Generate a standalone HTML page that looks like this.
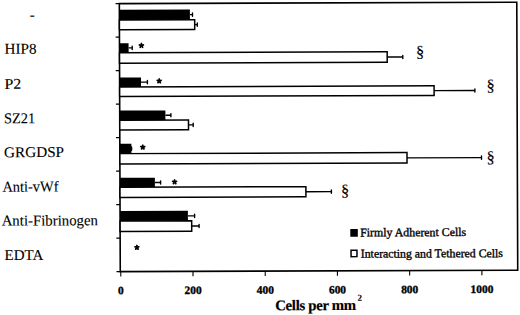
<!DOCTYPE html>
<html><head><meta charset="utf-8"><style>
html,body{margin:0;padding:0;background:#fff;width:520px;height:315px;overflow:hidden}
svg{display:block}
text{font-family:"Liberation Serif",serif;fill:#000;stroke:#000;stroke-width:0.1px}
</style></head><body>
<svg width="520" height="315" viewBox="0 0 520 315">
<g transform="rotate(-0.2 318.6 137.0)">
<rect x="119.80" y="2.95" width="397.45" height="267.95" fill="none" stroke="#000" stroke-width="1.6"/>
<line x1="116" x2="119.80" y1="2.95" y2="2.95" stroke="#000" stroke-width="1.3"/>
<line x1="116" x2="119.80" y1="36.44" y2="36.44" stroke="#000" stroke-width="1.3"/>
<line x1="116" x2="119.80" y1="69.94" y2="69.94" stroke="#000" stroke-width="1.3"/>
<line x1="116" x2="119.80" y1="103.43" y2="103.43" stroke="#000" stroke-width="1.3"/>
<line x1="116" x2="119.80" y1="136.92" y2="136.92" stroke="#000" stroke-width="1.3"/>
<line x1="116" x2="119.80" y1="170.42" y2="170.42" stroke="#000" stroke-width="1.3"/>
<line x1="116" x2="119.80" y1="203.91" y2="203.91" stroke="#000" stroke-width="1.3"/>
<line x1="116" x2="119.80" y1="237.41" y2="237.41" stroke="#000" stroke-width="1.3"/>
<line x1="116" x2="119.80" y1="270.90" y2="270.90" stroke="#000" stroke-width="1.3"/>
<line x1="120.30" x2="120.30" y1="270.90" y2="275.70" stroke="#000" stroke-width="1.1"/>
<line x1="192.52" x2="192.52" y1="270.90" y2="275.70" stroke="#000" stroke-width="1.1"/>
<line x1="264.74" x2="264.74" y1="270.90" y2="275.70" stroke="#000" stroke-width="1.1"/>
<line x1="336.96" x2="336.96" y1="270.90" y2="275.70" stroke="#000" stroke-width="1.1"/>
<line x1="409.18" x2="409.18" y1="270.90" y2="275.70" stroke="#000" stroke-width="1.1"/>
<line x1="481.40" x2="481.40" y1="270.90" y2="275.70" stroke="#000" stroke-width="1.1"/>
<rect x="119.80" y="9.08" width="70.53" height="11.00" fill="#000"/>
<line x1="190.33" x2="192.93" y1="14.20" y2="14.20" stroke="#000" stroke-width="1.4"/>
<line x1="192.93" x2="192.93" y1="12.60" y2="15.80" stroke="#000" stroke-width="1.4" stroke-linecap="round"/>
<rect x="119.80" y="19.33" width="75.29" height="9.70" fill="#fff" stroke="#000" stroke-width="1.5"/>
<line x1="195.09" x2="197.69" y1="24.18" y2="24.18" stroke="#000" stroke-width="1.4"/>
<line x1="197.69" x2="197.69" y1="22.58" y2="25.78" stroke="#000" stroke-width="1.4" stroke-linecap="round"/>
<rect x="119.80" y="42.48" width="9.11" height="10.30" fill="#000"/>
<line x1="128.91" x2="132.51" y1="47.25" y2="47.25" stroke="#000" stroke-width="1.4"/>
<line x1="132.51" x2="132.51" y1="45.65" y2="48.85" stroke="#000" stroke-width="1.4" stroke-linecap="round"/>
<rect x="119.80" y="52.03" width="267.68" height="10.55" fill="#fff" stroke="#000" stroke-width="1.5"/>
<line x1="387.48" x2="403.08" y1="57.30" y2="57.30" stroke="#000" stroke-width="1.4"/>
<line x1="403.08" x2="403.08" y1="55.70" y2="58.90" stroke="#000" stroke-width="1.4" stroke-linecap="round"/>
<rect x="119.80" y="76.78" width="21.39" height="10.20" fill="#000"/>
<line x1="141.19" x2="147.59" y1="81.50" y2="81.50" stroke="#000" stroke-width="1.4"/>
<line x1="147.59" x2="147.59" y1="79.90" y2="83.10" stroke="#000" stroke-width="1.4" stroke-linecap="round"/>
<rect x="119.80" y="86.23" width="314.46" height="9.65" fill="#fff" stroke="#000" stroke-width="1.5"/>
<line x1="434.26" x2="475.06" y1="91.05" y2="91.05" stroke="#000" stroke-width="1.4"/>
<line x1="475.06" x2="475.06" y1="89.45" y2="92.65" stroke="#000" stroke-width="1.4" stroke-linecap="round"/>
<rect x="119.80" y="109.88" width="45.68" height="10.40" fill="#000"/>
<line x1="165.48" x2="170.98" y1="114.70" y2="114.70" stroke="#000" stroke-width="1.4"/>
<line x1="170.98" x2="170.98" y1="113.10" y2="116.30" stroke="#000" stroke-width="1.4" stroke-linecap="round"/>
<rect x="119.80" y="119.53" width="68.74" height="9.85" fill="#fff" stroke="#000" stroke-width="1.5"/>
<line x1="188.54" x2="193.24" y1="124.45" y2="124.45" stroke="#000" stroke-width="1.4"/>
<line x1="193.24" x2="193.24" y1="122.85" y2="126.05" stroke="#000" stroke-width="1.4" stroke-linecap="round"/>
<rect x="119.80" y="143.18" width="11.56" height="10.50" fill="#000"/>
<ellipse cx="131.36" cy="148.05" rx="1.0" ry="2.6" fill="#000"/>
<rect x="119.80" y="152.93" width="287.13" height="10.45" fill="#fff" stroke="#000" stroke-width="1.5"/>
<line x1="406.93" x2="481.43" y1="158.15" y2="158.15" stroke="#000" stroke-width="1.4"/>
<line x1="481.43" x2="481.43" y1="156.55" y2="159.75" stroke="#000" stroke-width="1.4" stroke-linecap="round"/>
<rect x="119.80" y="177.18" width="34.94" height="10.20" fill="#000"/>
<line x1="154.74" x2="160.44" y1="181.90" y2="181.90" stroke="#000" stroke-width="1.4"/>
<line x1="160.44" x2="160.44" y1="180.30" y2="183.50" stroke="#000" stroke-width="1.4" stroke-linecap="round"/>
<rect x="119.80" y="186.63" width="185.91" height="10.15" fill="#fff" stroke="#000" stroke-width="1.5"/>
<line x1="305.71" x2="331.21" y1="191.70" y2="191.70" stroke="#000" stroke-width="1.4"/>
<line x1="331.21" x2="331.21" y1="190.10" y2="193.30" stroke="#000" stroke-width="1.4" stroke-linecap="round"/>
<rect x="119.80" y="210.38" width="67.83" height="10.80" fill="#000"/>
<line x1="187.63" x2="194.33" y1="215.40" y2="215.40" stroke="#000" stroke-width="1.4"/>
<line x1="194.33" x2="194.33" y1="213.80" y2="217.00" stroke="#000" stroke-width="1.4" stroke-linecap="round"/>
<rect x="119.80" y="220.43" width="71.59" height="10.35" fill="#fff" stroke="#000" stroke-width="1.5"/>
<line x1="191.39" x2="198.79" y1="225.60" y2="225.60" stroke="#000" stroke-width="1.4"/>
<line x1="198.79" x2="198.79" y1="224.00" y2="227.20" stroke="#000" stroke-width="1.4" stroke-linecap="round"/>
<g fill="#000"><ellipse cx="141.72" cy="43.53" rx="0.95" ry="1.55" transform="rotate(0.00 141.72 43.53)"/><ellipse cx="143.10" cy="44.53" rx="0.95" ry="1.55" transform="rotate(72.00 143.10 44.53)"/><ellipse cx="142.57" cy="46.16" rx="0.95" ry="1.55" transform="rotate(144.00 142.57 46.16)"/><ellipse cx="140.87" cy="46.16" rx="0.95" ry="1.55" transform="rotate(216.00 140.87 46.16)"/><ellipse cx="140.34" cy="44.53" rx="0.95" ry="1.55" transform="rotate(288.00 140.34 44.53)"/></g>
<g fill="#000"><ellipse cx="159.40" cy="78.99" rx="0.95" ry="1.55" transform="rotate(0.00 159.40 78.99)"/><ellipse cx="160.78" cy="80.00" rx="0.95" ry="1.55" transform="rotate(72.00 160.78 80.00)"/><ellipse cx="160.25" cy="81.62" rx="0.95" ry="1.55" transform="rotate(144.00 160.25 81.62)"/><ellipse cx="158.54" cy="81.62" rx="0.95" ry="1.55" transform="rotate(216.00 158.54 81.62)"/><ellipse cx="158.02" cy="80.00" rx="0.95" ry="1.55" transform="rotate(288.00 158.02 80.00)"/></g>
<g fill="#000"><ellipse cx="142.77" cy="145.14" rx="0.95" ry="1.55" transform="rotate(0.00 142.77 145.14)"/><ellipse cx="144.14" cy="146.14" rx="0.95" ry="1.55" transform="rotate(72.00 144.14 146.14)"/><ellipse cx="143.62" cy="147.76" rx="0.95" ry="1.55" transform="rotate(144.00 143.62 147.76)"/><ellipse cx="141.91" cy="147.76" rx="0.95" ry="1.55" transform="rotate(216.00 141.91 147.76)"/><ellipse cx="141.39" cy="146.14" rx="0.95" ry="1.55" transform="rotate(288.00 141.39 146.14)"/></g>
<g fill="#000"><ellipse cx="174.44" cy="179.95" rx="0.95" ry="1.55" transform="rotate(0.00 174.44 179.95)"/><ellipse cx="175.82" cy="180.95" rx="0.95" ry="1.55" transform="rotate(72.00 175.82 180.95)"/><ellipse cx="175.30" cy="182.57" rx="0.95" ry="1.55" transform="rotate(144.00 175.30 182.57)"/><ellipse cx="173.59" cy="182.57" rx="0.95" ry="1.55" transform="rotate(216.00 173.59 182.57)"/><ellipse cx="173.07" cy="180.95" rx="0.95" ry="1.55" transform="rotate(288.00 173.07 180.95)"/></g>
<g fill="#000"><ellipse cx="136.52" cy="245.32" rx="0.95" ry="1.55" transform="rotate(0.00 136.52 245.32)"/><ellipse cx="137.89" cy="246.32" rx="0.95" ry="1.55" transform="rotate(72.00 137.89 246.32)"/><ellipse cx="137.37" cy="247.94" rx="0.95" ry="1.55" transform="rotate(144.00 137.37 247.94)"/><ellipse cx="135.66" cy="247.94" rx="0.95" ry="1.55" transform="rotate(216.00 135.66 247.94)"/><ellipse cx="135.14" cy="246.32" rx="0.95" ry="1.55" transform="rotate(288.00 135.14 246.32)"/></g>
<text x="420.48" y="57.36" font-size="16.5" font-weight="normal" text-anchor="middle" style="stroke:#000;stroke-width:0.15px">§</text>
<text x="490.81" y="91.40" font-size="16.5" font-weight="normal" text-anchor="middle" style="stroke:#000;stroke-width:0.15px">§</text>
<text x="490.61" y="163.10" font-size="16.5" font-weight="normal" text-anchor="middle" style="stroke:#000;stroke-width:0.15px">§</text>
<text x="344.89" y="195.89" font-size="16.5" font-weight="normal" text-anchor="middle" style="stroke:#000;stroke-width:0.15px">§</text>
<text x="30.11" y="18.79" font-size="15.0" font-weight="normal" >-</text>
<text x="4.91" y="52.70" font-size="15.0" font-weight="normal" textLength="32.03" lengthAdjust="spacingAndGlyphs">HIP8</text>
<text x="4.57" y="87.80" font-size="15.0" font-weight="normal" textLength="16.79" lengthAdjust="spacingAndGlyphs">P2</text>
<text x="3.99" y="122.20" font-size="15.0" font-weight="normal" textLength="31.32" lengthAdjust="spacingAndGlyphs">SZ21</text>
<text x="4.00" y="156.10" font-size="15.0" font-weight="normal" textLength="60.00" lengthAdjust="spacingAndGlyphs">GRGDSP</text>
<text x="2.19" y="190.60" font-size="15.0" font-weight="normal" textLength="56.10" lengthAdjust="spacingAndGlyphs">Anti-vWf</text>
<text x="1.37" y="224.49" font-size="15.0" font-weight="normal" textLength="96.37" lengthAdjust="spacingAndGlyphs">Anti-Fibrinogen</text>
<text x="4.10" y="258.90" font-size="15.0" font-weight="normal" textLength="38.82" lengthAdjust="spacingAndGlyphs">EDTA</text>
<text x="120.30" y="293.6" font-size="11.4" font-weight="bold" text-anchor="middle" style="stroke:#000;stroke-width:0.35px">0</text>
<text x="192.52" y="293.6" font-size="11.4" font-weight="bold" text-anchor="middle" style="stroke:#000;stroke-width:0.35px">200</text>
<text x="264.74" y="293.6" font-size="11.4" font-weight="bold" text-anchor="middle" style="stroke:#000;stroke-width:0.35px">400</text>
<text x="336.96" y="293.6" font-size="11.4" font-weight="bold" text-anchor="middle" style="stroke:#000;stroke-width:0.35px">600</text>
<text x="409.18" y="293.6" font-size="11.4" font-weight="bold" text-anchor="middle" style="stroke:#000;stroke-width:0.35px">800</text>
<text x="481.40" y="293.6" font-size="11.4" font-weight="bold" text-anchor="middle" style="stroke:#000;stroke-width:0.35px">1000</text>
<text x="274.60" y="310.15" font-size="14.8" font-weight="bold" textLength="81.0" lengthAdjust="spacing" style="stroke:#000;stroke-width:0.2px">Cells per mm</text>
<text x="356.93" y="300.93" font-size="9" font-weight="bold" >2</text>
<rect x="349.98" y="229.11" width="7.5" height="7.7" fill="#000"/>
<rect x="350.66" y="250.46" width="5.9" height="6.3" fill="none" stroke="#000" stroke-width="1.5"/>
<text x="359.85" y="236.54" font-size="11.85" font-weight="normal" style="stroke:#000;stroke-width:0.35px">Firmly Adherent Cells</text>
<text x="360.38" y="257.75" font-size="11.8" font-weight="normal" style="stroke:#000;stroke-width:0.35px">Interacting and Tethered Cells</text>
</g>
</svg>
</body></html>
